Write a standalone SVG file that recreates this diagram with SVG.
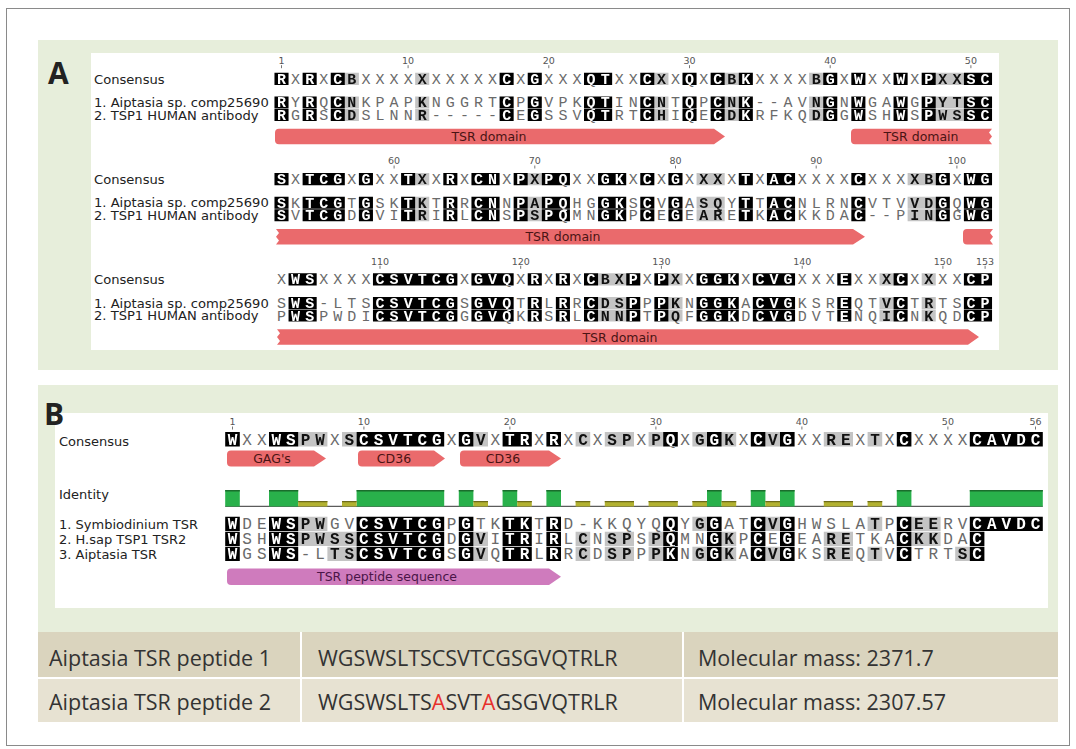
<svg xmlns="http://www.w3.org/2000/svg" width="1076" height="749" viewBox="0 0 1076 749">
<style>
.lab{font-family:"DejaVu Sans",sans-serif;font-size:13.1px;fill:#222}
.labB{font-family:"DejaVu Sans",sans-serif;font-size:13px;fill:#222}
.tick{font-family:"DejaVu Sans",sans-serif;font-size:9.5px;fill:#555;text-anchor:middle}
.tm{stroke:#777;stroke-width:1;fill:none}
.ann{font-family:"DejaVu Sans",sans-serif;font-size:12.5px;fill:#4a1414;text-anchor:middle}
.bar{fill:#ea6a6c}
.tbl{font-family:"Open Sans",sans-serif;font-size:21.5px;fill:#333}
.big{font-family:"Open Sans",sans-serif;font-weight:bold;font-size:30px;fill:#222}
</style>
<defs>
<path id="pA1k" d="M0 0h1v1h-1zM2 0h1v1h-1zM4 0h1v1h-1zM16 0h1v1h-1zM18 0h1v1h-1zM22 0h2v1h-2zM26 0h1v1h-1zM29 0h1v1h-1zM31 0h1v1h-1zM33 0h1v1h-1zM39 0h1v1h-1zM41 0h1v1h-1zM44 0h1v1h-1zM46 0h1v1h-1zM49 0h2v1h-2z"/>
<path id="pA1g" d="M5 0h1v1h-1zM10 0h1v1h-1zM27 0h1v1h-1zM32 0h1v1h-1zM38 0h1v1h-1zM47 0h2v1h-2z"/>
<path id="pA2k" d="M0 0h1v1h-1zM2 0h3v1h-3zM6 0h1v1h-1zM9 0h1v1h-1zM12 0h1v1h-1zM14 0h2v1h-2zM17 0h1v1h-1zM19 0h2v1h-2zM23 0h2v1h-2zM26 0h1v1h-1zM28 0h1v1h-1zM33 0h1v1h-1zM35 0h2v1h-2zM41 0h1v1h-1zM47 0h1v1h-1zM49 0h2v1h-2z"/>
<path id="pA2g" d="M10 0h1v1h-1zM18 0h1v1h-1zM30 0h2v1h-2zM45 0h2v1h-2z"/>
<path id="pA3k" d="M1 0h2v1h-2zM7 0h6v1h-6zM14 0h3v1h-3zM18 0h1v1h-1zM20 0h1v1h-1zM22 0h1v1h-1zM25 0h1v1h-1zM27 0h1v1h-1zM30 0h3v1h-3zM34 0h3v1h-3zM40 0h1v1h-1zM44 0h1v1h-1zM49 0h2v1h-2z"/>
<path id="pA3g" d="M23 0h2v1h-2zM28 0h1v1h-1zM43 0h1v1h-1zM46 0h1v1h-1z"/>
<path id="pBck" d="M0 0h1v1h-1zM3 0h2v1h-2zM9 0h6v1h-6zM16 0h1v1h-1zM19 0h2v1h-2zM22 0h1v1h-1zM30 0h1v1h-1zM33 0h1v1h-1zM36 0h1v1h-1zM38 0h1v1h-1zM46 0h1v1h-1zM51 0h5v1h-5z"/>
<path id="pBsk" d="M0 0h1v1h-1zM3 0h2v1h-2zM9 0h6v1h-6zM16 0h1v1h-1zM19 0h2v1h-2zM22 0h1v1h-1zM30 0h1v1h-1zM33 0h1v1h-1zM36 0h1v1h-1zM38 0h1v1h-1zM46 0h1v1h-1zM51 0h1v1h-1z"/>
<path id="pBcg" d="M5 0h2v1h-2zM8 0h1v1h-1zM17 0h1v1h-1zM24 0h1v1h-1zM26 0h2v1h-2zM29 0h1v1h-1zM32 0h1v1h-1zM34 0h1v1h-1zM37 0h1v1h-1zM41 0h2v1h-2zM44 0h1v1h-1z"/>
<path id="pB1g" d="M5 0h2v1h-2zM32 0h1v1h-1zM37 0h1v1h-1zM44 0h1v1h-1zM47 0h2v1h-2z"/>
<path id="pB2g" d="M5 0h4v1h-4zM17 0h1v1h-1zM24 0h1v1h-1zM26 0h2v1h-2zM29 0h1v1h-1zM34 0h1v1h-1zM41 0h2v1h-2zM47 0h2v1h-2z"/>
<path id="pB3g" d="M7 0h2v1h-2zM17 0h1v1h-1zM24 0h1v1h-1zM26 0h2v1h-2zM29 0h1v1h-1zM32 0h1v1h-1zM34 0h1v1h-1zM37 0h1v1h-1zM41 0h2v1h-2zM44 0h1v1h-1zM50 0h1v1h-1z"/>
<path id="idG" d="M0 0h1v1h-1zM3 0h2v1h-2zM9 0h6v1h-6zM16 0h1v1h-1zM19 0h1v1h-1zM22 0h1v1h-1zM33 0h1v1h-1zM36 0h1v1h-1zM38 0h1v1h-1zM46 0h1v1h-1zM51 0h5v1h-5z"/>
<path id="idO" d="M5 0h2v1h-2zM8 0h1v1h-1zM17 0h1v1h-1zM20 0h1v1h-1zM24 0h1v1h-1zM26 0h2v1h-2zM29 0h2v1h-2zM32 0h1v1h-1zM34 0h1v1h-1zM37 0h1v1h-1zM41 0h2v1h-2zM44 0h1v1h-1z"/>
<g id="kc">
<use href="#pA1k" transform="translate(274.47 72.7) scale(14.07 12.3)"/>
<use href="#pA1k" transform="translate(274.47 96.4) scale(14.07 12)"/>
<use href="#pA1k" transform="translate(274.47 108.9) scale(14.07 12)"/>
<use href="#pA2k" transform="translate(274.47 173) scale(14.07 12.3)"/>
<use href="#pA2k" transform="translate(274.47 196.7) scale(14.07 12)"/>
<use href="#pA2k" transform="translate(274.47 209.2) scale(14.07 12)"/>
<use href="#pA3k" transform="translate(274.47 273.3) scale(14.07 12.3)"/>
<use href="#pA3k" transform="translate(274.47 297) scale(14.07 12)"/>
<use href="#pA3k" transform="translate(274.47 309.5) scale(14.07 12)"/>
<use href="#pBck" transform="translate(225.2 432) scale(14.6 14.5)"/>
<use href="#pBck" transform="translate(225.2 516.7) scale(14.6 14.3)"/>
<use href="#pBsk" transform="translate(225.2 531.7) scale(14.6 14.3)"/>
<use href="#pBsk" transform="translate(225.2 546.7) scale(14.6 14.3)"/>
</g>
<g id="gc">
<use href="#pA1g" transform="translate(274.47 72.7) scale(14.07 12.3)"/>
<use href="#pA1g" transform="translate(274.47 96.4) scale(14.07 12)"/>
<use href="#pA1g" transform="translate(274.47 108.9) scale(14.07 12)"/>
<use href="#pA2g" transform="translate(274.47 173) scale(14.07 12.3)"/>
<use href="#pA2g" transform="translate(274.47 196.7) scale(14.07 12)"/>
<use href="#pA2g" transform="translate(274.47 209.2) scale(14.07 12)"/>
<use href="#pA3g" transform="translate(274.47 273.3) scale(14.07 12.3)"/>
<use href="#pA3g" transform="translate(274.47 297) scale(14.07 12)"/>
<use href="#pA3g" transform="translate(274.47 309.5) scale(14.07 12)"/>
<use href="#pBcg" transform="translate(225.2 432) scale(14.6 14.5)"/>
<use href="#pB1g" transform="translate(225.2 516.7) scale(14.6 14.3)"/>
<use href="#pB2g" transform="translate(225.2 531.7) scale(14.6 14.3)"/>
<use href="#pB3g" transform="translate(225.2 546.7) scale(14.6 14.3)"/>
</g>
<g id="st" font-family="'Liberation Mono',monospace">
<text x="277" y="83.7" font-size="15" letter-spacing="5.07">RXRXCBXXXXXXXXXXCXGXXXQTXXCXXQXCBKXXXXBGXWXXWXPXXSC</text>
<text x="277" y="107.4" font-size="15" letter-spacing="5.07">RYRQCNKPAPKNGGRTCPGVPKQTINCNTQPCNK--AVNGNWGAWGPYTSC</text>
<text x="277" y="119.9" font-size="15" letter-spacing="5.07">RGRSCDSLNNR-----CEGSSVQTRTCHIQECDKRFKQDGGWSHWSPWSSC</text>
<text x="277" y="184" font-size="15" letter-spacing="5.07">SXTCGXGXXTXXRXCNXPXPQXXGKXCXGXXXXTXACXXXXCXXXXBGXWG</text>
<text x="277" y="207.7" font-size="15" letter-spacing="5.07">SKTCGTGSKTKTRRCNNPAPQHGGKSCVGASQYTTACNLRNCVTVVDGQWG</text>
<text x="277" y="220.2" font-size="15" letter-spacing="5.07">SVTCGDGVITRIRLCNSPSPQMNGKPCEGEARETKACKKDAC--PINGGWG</text>
<text x="277" y="284.3" font-size="15" letter-spacing="5.07">XWSXXXXCSVTCGXGVQXRXRXCBXPXPXXGGKXCVGXXXEXXXCXXXXCP</text>
<text x="277" y="308" font-size="15" letter-spacing="5.07">SWS-LTSCSVTCGSGVQTRLRRCDSPPPKNGGKACVGKSREQTVCTRTSCP</text>
<text x="277" y="320.5" font-size="15" letter-spacing="5.07">PWSPWDICSVTCGGGVQKRSRLCNNPTPQFGGKDCVGDVTENQICNKQDCP</text>
<text x="227.7" y="444.5" font-size="16" letter-spacing="5">WXXWSPWXSCSVTCGXGVXTRXRXCXSPXPQXGGKXCVGXXREXTXCXXXXCAVDC</text>
<text x="227.7" y="529" font-size="16" letter-spacing="5">WDEWSPWGVCSVTCGPGTKTKTRD-KKQYQQYGGATCVGHWSLATPCEERVCAVDC</text>
<text x="227.7" y="544" font-size="16" letter-spacing="5">WSHWSPWSSCSVTCGDGVITRIRLCNSPSPQMNGKPCEGEARETKACKKDAC</text>
<text x="227.7" y="559" font-size="16" letter-spacing="5">WGSWS-LTSCSVTCGSGVQTRLRRCDSPPPKNGGKACVGKSREQTVCTRTSC</text>
</g>
<mask id="mk" maskUnits="userSpaceOnUse" x="0" y="0" width="1076" height="749"><use href="#kc" fill="#fff"/></mask>
<mask id="mg" maskUnits="userSpaceOnUse" x="0" y="0" width="1076" height="749"><use href="#gc" fill="#fff"/></mask>
</defs>
<rect width="1076" height="749" fill="#fff"/>
<rect x="6.5" y="8.5" width="1063" height="737" fill="none" stroke="#8a8a8a"/>
<g id="panelA">
<rect x="38" y="40" width="1020" height="330" fill="#e7eedb"/>
<rect x="91" y="53" width="908" height="297" fill="#fff"/>
<text class="big" x="48" y="84">A</text>
<text class="lab" x="94" y="83.5">Consensus</text>
<text class="lab" x="94" y="107">1. Aiptasia sp. comp25690</text>
<text class="lab" x="94" y="119.8">2. TSP1 HUMAN antibody</text>
<text class="lab" x="94" y="183.8">Consensus</text>
<text class="lab" x="94" y="207.3">1. Aiptasia sp. comp25690</text>
<text class="lab" x="94" y="220.1">2. TSP1 HUMAN antibody</text>
<text class="lab" x="94" y="284.1">Consensus</text>
<text class="lab" x="94" y="307.6">1. Aiptasia sp. comp25690</text>
<text class="lab" x="94" y="320.4">2. TSP1 HUMAN antibody</text>
<g class="tick">
<text x="281.5" y="64">1</text><text x="408.1" y="64">10</text><text x="548.8" y="64">20</text><text x="689.5" y="64">30</text><text x="830.2" y="64">40</text><text x="970.9" y="64">50</text>
<text x="394.1" y="164.3">60</text><text x="534.8" y="164.3">70</text><text x="675.5" y="164.3">80</text><text x="816.2" y="164.3">90</text><text x="956.9" y="164.3">100</text>
<text x="380" y="264.6">110</text><text x="520.7" y="264.6">120</text><text x="661.4" y="264.6">130</text><text x="802.2" y="264.6">140</text><text x="942.9" y="264.6">150</text><text x="985.1" y="264.6">153</text>
</g>
<path class="tm" d="M281.5 65.2v3M408.1 65.2v3M548.8 65.2v3M689.5 65.2v3M830.2 65.2v3M970.9 65.2v3M394.1 165.5v3M534.8 165.5v3M675.5 165.5v3M816.2 165.5v3M956.9 165.5v3M380 265.8v3M520.7 265.8v3M661.4 265.8v3M802.2 265.8v3M942.9 265.8v3M985.1 265.8v3"/>
<path class="bar" d="M279 128.7H714L725 136.45L714 144.2H279Q275 144.2 275 140.2V132.7Q275 128.7 279 128.7Z"/>
<path class="bar" d="M855 128.7H992L989 132.6L992 136.45L989 140.3L992 144.2H855Q851 144.2 851 140.2V132.7Q851 128.7 855 128.7Z"/>
<path class="bar" d="M276 229H853L865 236.75L853 244.5H276L279 240.6L276 236.75L279 232.9Z"/>
<path class="bar" d="M967 229H993L990 232.9L993 236.75L990 240.6L993 244.5H967Q963 244.5 963 240.5V233Q963 229 967 229Z"/>
<path class="bar" d="M277 329.3H968L979 337.05L968 344.8H277L280 340.9L277 337.05L280 333.2Z"/>
<text class="ann" x="489" y="141">TSR domain</text>
<text class="ann" x="921" y="141">TSR domain</text>
<text class="ann" x="563" y="241.3">TSR domain</text>
<text class="ann" x="620" y="341.6">TSR domain</text>
</g>
<g id="panelB">
<rect x="38" y="385" width="1020" height="247" fill="#e7eedb"/>
<rect x="55" y="413" width="993" height="195" fill="#fff"/>
<text class="big" x="44" y="425">B</text>
<text class="labB" x="59" y="445.5">Consensus</text>
<text class="labB" x="59" y="499">Identity</text>
<text class="labB" x="59" y="528.8">1. Symbiodinium TSR</text>
<text class="labB" x="59" y="543.8">2. H.sap TSP1 TSR2</text>
<text class="labB" x="59" y="558.8">3. Aiptasia TSR</text>
<g class="tick">
<text x="232.5" y="425.3">1</text><text x="363.9" y="425.3">10</text><text x="509.9" y="425.3">20</text><text x="655.9" y="425.3">30</text><text x="801.9" y="425.3">40</text><text x="947.9" y="425.3">50</text><text x="1035.5" y="425.3">56</text>
</g>
<path class="tm" d="M232.5 426.5v3M363.9 426.5v3M509.9 426.5v3M655.9 426.5v3M801.9 426.5v3M947.9 426.5v3M1035.5 426.5v3"/>
<path class="bar" d="M231 450.5H314L326 458.5L314 466.5H231Q227 466.5 227 462.5V454.5Q227 450.5 231 450.5Z"/>
<path class="bar" d="M362 450.5H434L445 458.5L434 466.5H362Q358 466.5 358 462.5V454.5Q358 450.5 362 450.5Z"/>
<path class="bar" d="M464 450.5H549L561 458.5L549 466.5H464Q460 466.5 460 462.5V454.5Q460 450.5 464 450.5Z"/>
<text class="ann" x="272" y="463">GAG's</text>
<text class="ann" x="394" y="463">CD36</text>
<text class="ann" x="503" y="463">CD36</text>
<line x1="225.2" y1="506.3" x2="1042.8" y2="506.3" stroke="#333" stroke-width="1"/>
<use href="#idG" fill="#29b14b" transform="translate(225.2 490) scale(14.6 16.5)"/>
<use href="#idG" fill="#1a6d2c" transform="translate(225.2 490) scale(14.6 1.6)"/>
<use href="#idO" fill="#b2b130" transform="translate(225.2 501) scale(14.6 5.5)"/>
<use href="#idO" fill="#6d6b1a" transform="translate(225.2 501) scale(14.6 1.3)"/>
<path fill="#cf7bbd" d="M231 568.5H549L561 576.75L549 585H231Q227 585 227 581V572.5Q227 568.5 231 568.5Z"/>
<text class="ann" x="387" y="581" style="fill:#4b1548">TSR peptide sequence</text>
</g>
<g id="alignment">
<use href="#st" fill="#6a6a6a"/>
<use href="#gc" fill="#c4c4c4"/>
<use href="#st" fill="#111" font-weight="bold" mask="url(#mg)"/>
<use href="#kc" fill="#000"/>
<use href="#st" fill="#fff" font-weight="bold" mask="url(#mk)"/>
</g>
<g id="table">
<rect x="38" y="632" width="1020" height="46" fill="#dad4be"/>
<rect x="38" y="679" width="1020" height="43" fill="#e7e2d2"/>
<rect x="300" y="632" width="2" height="90" fill="#fff"/>
<rect x="682" y="632" width="2" height="90" fill="#fff"/>
<rect x="38" y="677" width="1020" height="2" fill="#fff"/>
<text class="tbl" x="49" y="665.5">Aiptasia TSR peptide 1</text>
<text class="tbl" x="318" y="665.5">WGSWSLTSCSVTCGSGVQTRLR</text>
<text class="tbl" x="698" y="665.5">Molecular mass: 2371.7</text>
<text class="tbl" x="49" y="709.5">Aiptasia TSR peptide 2</text>
<text class="tbl" x="318" y="709.5">WGSWSLTS<tspan fill="#e8302c">A</tspan>SVT<tspan fill="#e8302c">A</tspan>GSGVQTRLR</text>
<text class="tbl" x="698" y="709.5">Molecular mass: 2307.57</text>
</g>
</svg>
